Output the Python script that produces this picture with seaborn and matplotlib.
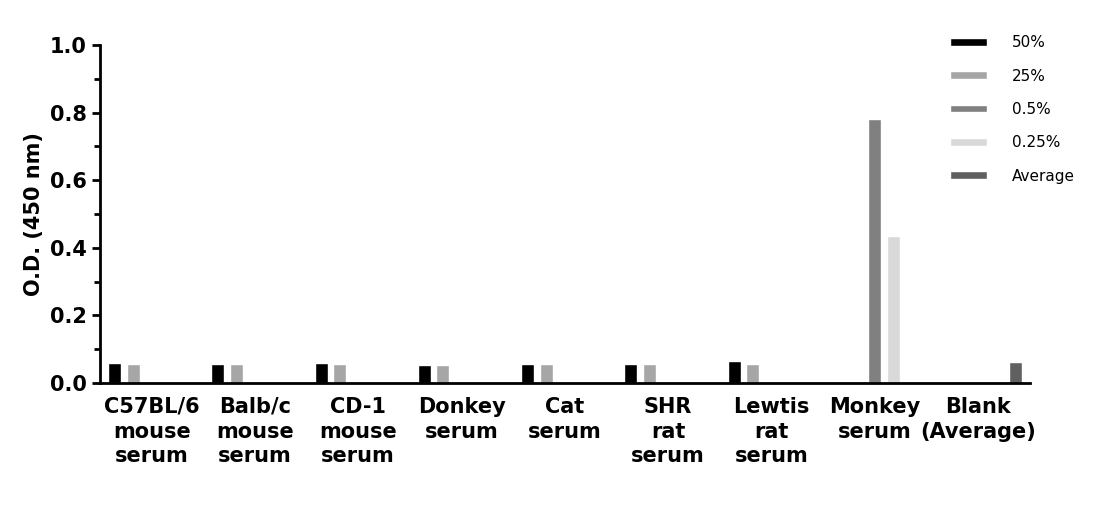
import matplotlib
matplotlib.use("Agg")
import matplotlib.pyplot as plt
import seaborn as sns
import pandas as pd
import numpy as np
from matplotlib.ticker import MultipleLocator

categories = ["C57BL/6\nmouse\nserum", "Balb/c\nmouse\nserum", "CD-1\nmouse\nserum",
              "Donkey\nserum", "Cat\nserum", "SHR\nrat\nserum", "Lewtis\nrat\nserum",
              "Monkey\nserum", "Blank\n(Average)"]
series = ["50%", "25%", "0.5%", "0.25%", "Average"]
v50 = [0.058, 0.057, 0.058, 0.053, 0.057, 0.057, 0.065, np.nan, np.nan]
v25 = [0.055, 0.057, 0.055, 0.053, 0.057, 0.057, 0.057, np.nan, np.nan]
v05 = [np.nan]*7 + [0.78, np.nan]
v025 = [np.nan]*7 + [0.435, np.nan]
vavg = [np.nan]*8 + [0.063]
colors = ["#000000", "#a6a6a6", "#808080", "#d9d9d9", "#606060"]

rows = []
for s, vals in zip(series, [v50, v25, v05, v025, vavg]):
    for c, v in zip(categories, vals):
        rows.append({"cat": c, "series": s, "val": v})
df = pd.DataFrame(rows)

sns.set_style("ticks")
plt.rcParams["font.family"] = ["DejaVu Sans"]
plt.rcParams["text.color"] = "black"
plt.rcParams["xtick.color"] = "black"
plt.rcParams["ytick.color"] = "black"
plt.rcParams["axes.labelcolor"] = "black"
fig = plt.figure(figsize=(11.06, 5.07), dpi=100)
ax = fig.add_axes([0.0904, 0.2446, 0.8406, 0.6664])
sns.barplot(data=df, x="cat", y="val", hue="series", order=categories, hue_order=series,
            palette=colors, width=0.9, gap=0.3, ax=ax, errorbar=None, saturation=1)
ax.set_ylim(0, 1.0)
ax.set_xlim(-0.5, 8.5)
ax.yaxis.set_minor_locator(MultipleLocator(0.1))
ax.set_yticks(np.arange(0, 1.01, 0.2))
ax.set_yticklabels([f"{t:.1f}" for t in np.arange(0, 1.01, 0.2)], fontsize=15, fontweight="bold")
ax.set_xticks(range(len(categories)))
ax.set_xticklabels(categories, fontsize=15, fontweight="bold", linespacing=1.3)
ax.set_xlabel("")
ax.set_ylabel("O.D. (450 nm)", fontsize=15, fontweight="bold")
sns.despine(ax=ax)
for sp in ["left", "bottom"]:
    ax.spines[sp].set_linewidth(2)
    ax.spines[sp].set_color("black")
ax.tick_params(axis="both", which="major", width=2, length=6)
ax.tick_params(axis="y", which="minor", width=2, length=4)
ax.tick_params(axis="x", length=0, pad=10)
handles, labels = ax.get_legend_handles_labels()
ax.legend(handles, labels, loc="upper left", bbox_to_anchor=(0.9, 1.07), frameon=False,
          fontsize=11, handlelength=2.4, handleheight=0.4, labelspacing=1.2, handletextpad=1.6)
fig.savefig("out.png", dpi=100)
